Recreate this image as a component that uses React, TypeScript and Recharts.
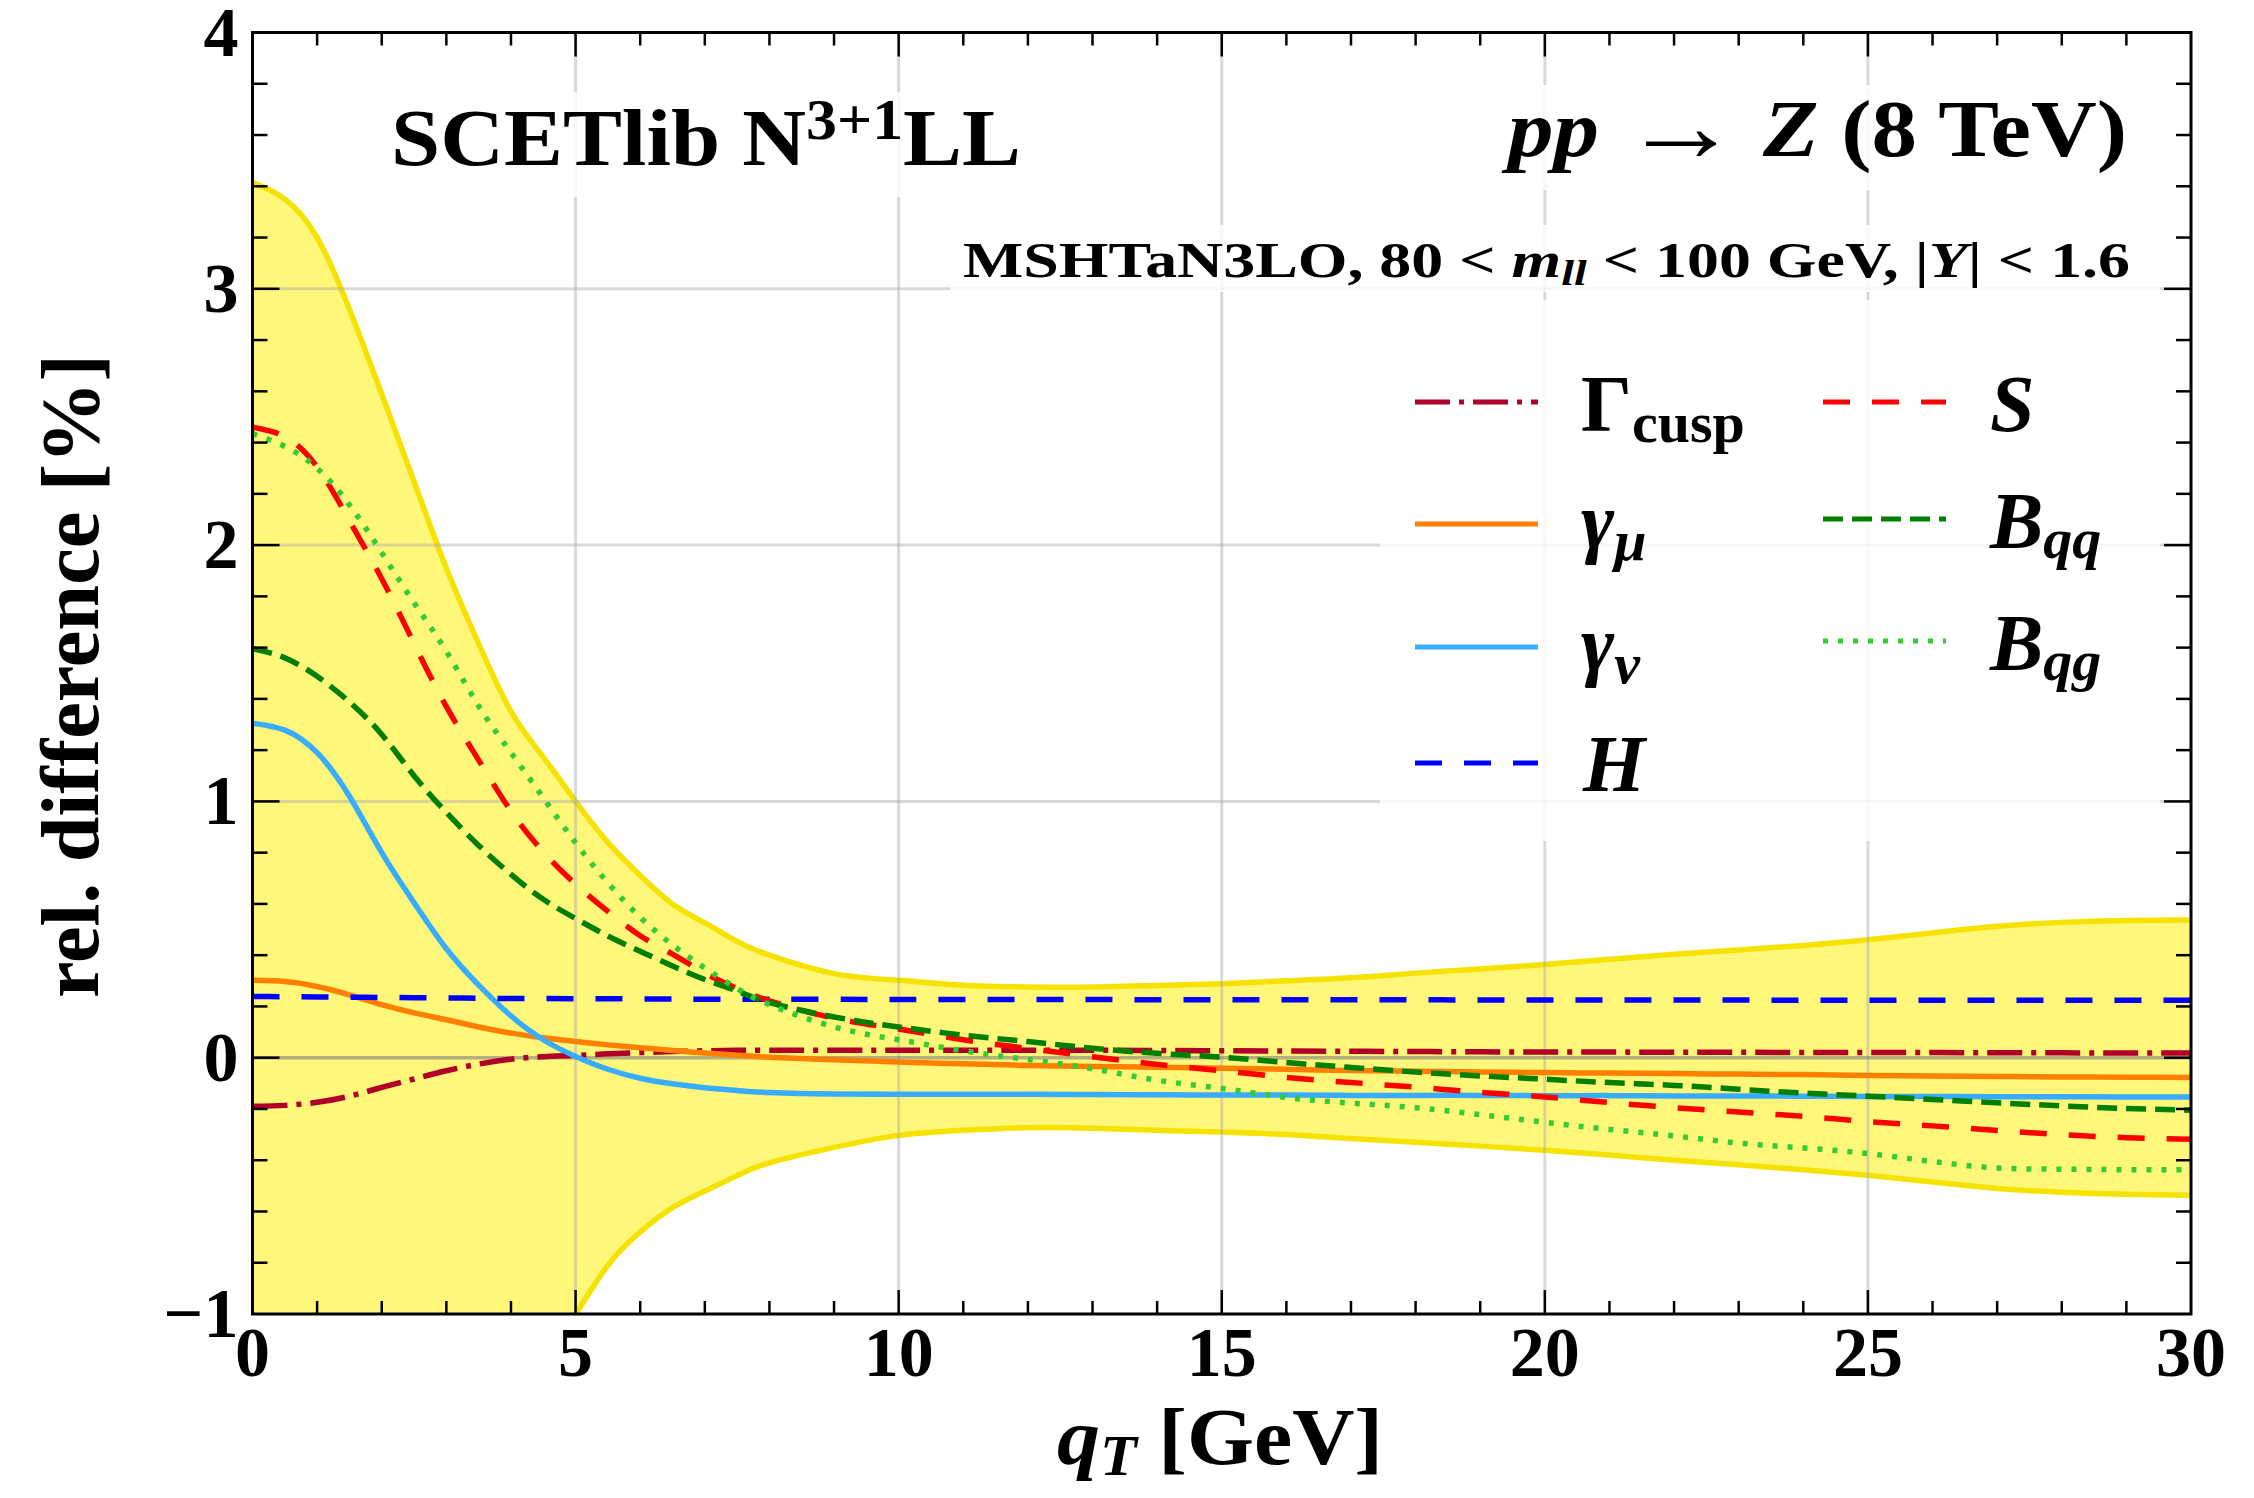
import React from "react";
import { ComposedChart, Area, Line, XAxis, YAxis, ReferenceLine } from "recharts";

// --- Data ---

const qT = [0, 0.5, 1, 1.5, 2, 2.5, 3, 3.5, 4, 4.5, 5, 5.5, 6, 6.5, 7, 7.5, 8, 9, 10, 11, 12, 13, 14, 15, 16, 17, 18, 19, 20, 21, 22, 23, 24, 25, 26, 27, 28, 29, 30];

// total uncertainty band (upper / lower edge)
const bandHi = [3.415, 3.35, 3.2, 2.92, 2.589, 2.248, 1.91, 1.615, 1.351, 1.173, 1.0, 0.84, 0.711, 0.6, 0.526, 0.454, 0.4, 0.328, 0.302, 0.283, 0.276, 0.276, 0.282, 0.289, 0.3, 0.312, 0.33, 0.346, 0.364, 0.384, 0.404, 0.42, 0.438, 0.46, 0.487, 0.513, 0.528, 0.535, 0.537];
const bandLo = [-3.415, -3.35, -3.2, -2.92, -2.589, -2.248, -1.91, -1.615, -1.351, -1.173, -1.0, -0.81, -0.68, -0.585, -0.52, -0.46, -0.41, -0.35, -0.303, -0.283, -0.273, -0.275, -0.283, -0.29, -0.3, -0.315, -0.33, -0.345, -0.361, -0.38, -0.4, -0.418, -0.437, -0.459, -0.485, -0.51, -0.525, -0.533, -0.537];

const gammaCusp = [-0.19, -0.186, -0.174, -0.15, -0.116, -0.083, -0.051, -0.025, -0.006, 0.004, 0.009, 0.015, 0.02, 0.024, 0.027, 0.029, 0.029, 0.029, 0.029, 0.029, 0.029, 0.029, 0.028, 0.027, 0.026, 0.025, 0.024, 0.023, 0.022, 0.022, 0.021, 0.021, 0.02, 0.02, 0.02, 0.019, 0.019, 0.018, 0.018];
const gammaMu = [0.302, 0.297, 0.278, 0.245, 0.207, 0.175, 0.148, 0.12, 0.096, 0.078, 0.063, 0.05, 0.039, 0.028, 0.018, 0.01, 0.002, -0.008, -0.017, -0.024, -0.03, -0.034, -0.037, -0.041, -0.045, -0.05, -0.053, -0.056, -0.058, -0.06, -0.062, -0.064, -0.066, -0.069, -0.071, -0.073, -0.075, -0.076, -0.077];
const gammaNu = [1.305, 1.278, 1.19, 1.02, 0.8, 0.605, 0.425, 0.283, 0.163, 0.07, 0.005, -0.045, -0.08, -0.102, -0.117, -0.128, -0.136, -0.142, -0.143, -0.143, -0.143, -0.144, -0.145, -0.146, -0.146, -0.147, -0.147, -0.147, -0.148, -0.148, -0.149, -0.149, -0.15, -0.151, -0.151, -0.152, -0.152, -0.153, -0.153];
const hardH = [0.239, 0.238, 0.237, 0.236, 0.235, 0.234, 0.233, 0.232, 0.231, 0.231, 0.23, 0.23, 0.229, 0.229, 0.228, 0.228, 0.228, 0.228, 0.227, 0.227, 0.227, 0.227, 0.226, 0.226, 0.226, 0.226, 0.226, 0.225, 0.225, 0.225, 0.225, 0.225, 0.224, 0.224, 0.224, 0.224, 0.224, 0.224, 0.224];
const softS = [2.46, 2.423, 2.305, 2.095, 1.869, 1.616, 1.37, 1.161, 0.962, 0.803, 0.677, 0.571, 0.476, 0.404, 0.33, 0.27, 0.222, 0.154, 0.112, 0.07, 0.036, 0.004, -0.026, -0.051, -0.077, -0.097, -0.115, -0.135, -0.153, -0.175, -0.195, -0.212, -0.229, -0.249, -0.266, -0.284, -0.3, -0.312, -0.318];
const beamQQ = [1.596, 1.56, 1.488, 1.388, 1.261, 1.1, 0.957, 0.828, 0.715, 0.618, 0.543, 0.475, 0.415, 0.358, 0.305, 0.26, 0.215, 0.159, 0.12, 0.088, 0.063, 0.037, 0.017, 0.002, -0.019, -0.038, -0.056, -0.071, -0.084, -0.097, -0.108, -0.123, -0.138, -0.15, -0.163, -0.176, -0.188, -0.198, -0.205];
const beamQG = [2.435, 2.385, 2.3, 2.157, 1.97, 1.775, 1.585, 1.372, 1.19, 1.014, 0.838, 0.682, 0.548, 0.44, 0.35, 0.27, 0.207, 0.12, 0.07, 0.027, -0.007, -0.043, -0.088, -0.12, -0.155, -0.177, -0.195, -0.222, -0.252, -0.28, -0.305, -0.333, -0.352, -0.374, -0.405, -0.43, -0.435, -0.437, -0.437];

// ticks / grid
const xLabels = [0, 5, 10, 15, 20, 25, 30];
const xTicks = Array.from({ length: 31 }, (_, i) => i);
const yLabels = [-1, 0, 1, 2, 3, 4];
const yTicks = Array.from({ length: 26 }, (_, i) => Math.round((-1 + i * 0.2) * 10) / 10);
const xGrid = [5, 10, 15, 20, 25];
const yGrid = [1, 2, 3];

const data = qT.map((q, i) => ({
  q,
  band: [bandLo[i], bandHi[i]],
  cusp: gammaCusp[i],
  mu: gammaMu[i],
  nu: gammaNu[i],
  H: hardH[i],
  S: softS[i],
  Bqq: beamQQ[i],
  Bqg: beamQG[i],
}));

// --- Styles / layout ---

const W = 2254;
const H = 1498;
const PLOT = { left: 252.5, top: 32.5, right: 2191, bottom: 1314 };
const FONT = "'Liberation Serif', 'Times New Roman', serif";
const TICK_FS = 70;

const SERIES = [
  { key: "cusp", color: "#b0002a", dash: "35 9 5 9" },
  { key: "mu", color: "#ff8000", dash: undefined },
  { key: "nu", color: "#38acff", dash: undefined },
  { key: "H", color: "#0000ff", dash: "27 22" },
  { key: "S", color: "#ff0000", dash: "27 22" },
  { key: "Bqq", color: "#007f00", dash: "20 9" },
  { key: "Bqg", color: "#33cc33", dash: "5 10" },
];

const SUB = 58;
const LEGEND = [
  { key: "cusp", x: 1415, y: 402, tx: 1581, ty: 431, label: <><tspan>Γ</tspan><tspan fontSize={SUB} dy={11}>cusp</tspan></> },
  { key: "mu", x: 1415, y: 524, tx: 1581, ty: 548, label: <><tspan fontStyle="italic">γ</tspan><tspan fontStyle="italic" fontSize={SUB} dy={12}>μ</tspan></> },
  { key: "nu", x: 1415, y: 647, tx: 1581, ty: 671, label: <><tspan fontStyle="italic">γ</tspan><tspan fontStyle="italic" fontSize={SUB} dy={12}>ν</tspan></> },
  { key: "H", x: 1415, y: 763, tx: 1583, ty: 791, label: <tspan fontStyle="italic">H</tspan> },
  { key: "S", x: 1823, y: 402, tx: 1990, ty: 431, label: <tspan fontStyle="italic">S</tspan> },
  { key: "Bqq", x: 1823, y: 519, tx: 1990, ty: 548, label: <><tspan fontStyle="italic">B</tspan><tspan fontStyle="italic" fontSize={SUB} dy={10}>qq</tspan></> },
  { key: "Bqg", x: 1823, y: 641, tx: 1990, ty: 670, label: <><tspan fontStyle="italic">B</tspan><tspan fontStyle="italic" fontSize={SUB} dy={10}>qg</tspan></> },
];

function XTick(props: any) {
  const { x, y, payload } = props;
  const v = payload.value as number;
  const major = xLabels.includes(v);
  const len = major ? 24 : 13;
  const inner = v > 0 && v < 30;
  return (
    <g>
      {inner && <line x1={x} x2={x} y1={y} y2={y - len} stroke="#000" strokeWidth={2.5} />}
      {inner && <line x1={x} x2={x} y1={PLOT.top} y2={PLOT.top + len} stroke="#000" strokeWidth={2.5} />}
      {major && (
        <text x={x} y={y + 62} textAnchor="middle" fontFamily={FONT} fontWeight="bold" fontSize={TICK_FS} fill="#000">
          {v}
        </text>
      )}
    </g>
  );
}

function YTick(props: any) {
  const { x, y, payload } = props;
  const v = payload.value as number;
  const major = yLabels.includes(v);
  const len = major ? 27 : 15;
  const inner = v > -1 && v < 4;
  return (
    <g>
      {inner && <line x1={x} x2={x + len} y1={y} y2={y} stroke="#000" strokeWidth={2.5} />}
      {inner && <line x1={PLOT.right} x2={PLOT.right - len} y1={y} y2={y} stroke="#000" strokeWidth={2.5} />}
      {major && (
        <text x={x - 14} y={y + 23} textAnchor="end" fontFamily={FONT} fontWeight="bold" fontSize={TICK_FS} fill="#000">
          {v < 0 ? `\u2212${-v}` : v}
        </text>
      )}
    </g>
  );
}

function Overlay() {
  return (
    <svg
      width={W}
      height={H}
      style={{ position: "absolute", left: 0, top: 0, pointerEvents: "none", whiteSpace: "pre" }}
      fontFamily={FONT}
      fontWeight="bold"
      fill="#000"
    >
      {/* semi-transparent text / legend boxes */}
      <rect x={378} y={92} width={657} height={105} fill="#fff" fillOpacity={0.8} />
      <rect x={1495} y={85} width={645} height={105} fill="#fff" fillOpacity={0.8} />
      <rect x={950} y={225} width={1210} height={67} fill="#fff" fillOpacity={0.8} />
      <rect x={1380} y={300} width={780} height={541} fill="#fff" fillOpacity={0.8} />

      {/* frame */}
      <rect x={PLOT.left} y={PLOT.top} width={PLOT.right - PLOT.left} height={PLOT.bottom - PLOT.top} fill="none" stroke="#000" strokeWidth={3} />

      {/* annotations */}
      <text x={391} y={165} fontSize={80} textLength={630} lengthAdjust="spacingAndGlyphs">
        <tspan>SCETlib N</tspan>
        <tspan fontSize={56} dy={-26}>3+1</tspan>
        <tspan dy={26}>LL</tspan>
      </text>
      <text x={1508} y={156} fontSize={80} textLength={619} lengthAdjust="spacingAndGlyphs">
        <tspan fontStyle="italic">pp </tspan>
        <tspan fontSize={104} fontWeight="normal" dy={5}>→</tspan>
        <tspan dy={-5}> </tspan>
        <tspan fontStyle="italic">Z</tspan>
        <tspan> (8 TeV)</tspan>
      </text>
      <text x={963} y={277} fontSize={50} textLength={1167} lengthAdjust="spacingAndGlyphs">
        <tspan>MSHTaN3LO, 80 &lt; </tspan>
        <tspan fontStyle="italic">m</tspan>
        <tspan fontStyle="italic" fontSize={36} dy={8}>ll</tspan>
        <tspan dy={-8}> &lt; 100 GeV, |</tspan>
        <tspan fontStyle="italic">Y</tspan>
        <tspan>| &lt; 1.6</tspan>
      </text>

      {/* axis titles */}
      <text transform="translate(98,676) rotate(-90)" textAnchor="middle" fontSize={82} textLength={644} lengthAdjust="spacingAndGlyphs">
        rel. difference [%]
      </text>
      <text x={1057} y={1464} fontSize={80} textLength={326} lengthAdjust="spacingAndGlyphs">
        <tspan fontStyle="italic">q</tspan>
        <tspan fontStyle="italic" fontSize={56} dy={11}>T</tspan>
        <tspan dy={-11}> [GeV]</tspan>
      </text>

      {/* legend */}
      {LEGEND.map((l) => {
        const s = SERIES.find((d) => d.key === l.key)!;
        return (
          <g key={l.key}>
            <line x1={l.x} x2={l.x + 123} y1={l.y} y2={l.y} stroke={s.color} strokeWidth={5} strokeDasharray={s.dash} />
            <text x={l.tx} y={l.ty} fontSize={80}>
              {l.label}
            </text>
          </g>
        );
      })}
    </svg>
  );
}

export default function App() {
  return (
    <div style={{ position: "absolute", left: 0, top: 0, width: W, height: H, background: "#fff" }}>
      <ComposedChart
        width={W}
        height={H}
        data={data}
        margin={{ top: PLOT.top, right: W - PLOT.right, bottom: 0, left: 0 }}
      >
        <XAxis
          dataKey="q"
          type="number"
          domain={[0, 30]}
          allowDataOverflow
          ticks={xTicks}
          interval={0}
          height={H - PLOT.bottom}
          axisLine={false}
          tickLine={false}
          tickSize={0}
          tickMargin={0}
          tick={XTick}
        />
        <YAxis
          type="number"
          domain={[-1, 4]}
          allowDataOverflow
          ticks={yTicks}
          interval={0}
          width={PLOT.left}
          axisLine={false}
          tickLine={false}
          tickSize={0}
          tickMargin={0}
          tick={YTick}
        />
        <Area
          dataKey="band"
          type="natural"
          fill="#fff77a"
          fillOpacity={1}
          stroke="#f5e200"
          strokeWidth={5.5}
          dot={false}
          activeDot={false}
          isAnimationActive={false}
        />
        {xGrid.map((v) => (
          <ReferenceLine key={`gx${v}`} x={v} stroke="#aaa" strokeOpacity={0.45} strokeWidth={3} />
        ))}
        {yGrid.map((v) => (
          <ReferenceLine key={`gy${v}`} y={v} stroke="#aaa" strokeOpacity={0.45} strokeWidth={3} />
        ))}
        <ReferenceLine y={0} stroke="#808080" strokeOpacity={0.6} strokeWidth={3.5} />
        {SERIES.map((s) => (
          <Line
            key={s.key}
            dataKey={s.key}
            type="natural"
            stroke={s.color}
            strokeWidth={5.5}
            strokeDasharray={s.dash}
            dot={false}
            activeDot={false}
            isAnimationActive={false}
          />
        ))}
      </ComposedChart>
      <Overlay />
    </div>
  );
}
